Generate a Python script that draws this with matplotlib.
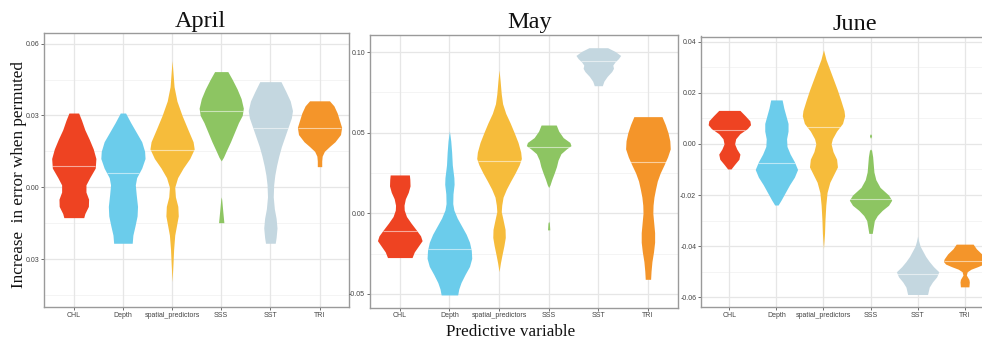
import numpy as np
import matplotlib
matplotlib.use("Agg")
import matplotlib.pyplot as plt

# categories and colours
categories = ["CHL", "Depth", "spatial_predictors", "SSS", "SST", "TRI"]
colors = ["#EE4322", "#6BCCEB", "#F6BC3B", "#8DC562", "#C4D7E0", "#F4952A"]

# violin outlines: (y values, relative width 0..1)
april_profiles = {
    "CHL": ([0.031, 0.028, 0.024, 0.020, 0.016, 0.012, 0.008, 0.004, 0.001, -0.002, -0.005, -0.008, -0.011, -0.0127],
            [0.22, 0.35, 0.5, 0.7, 0.88, 1.0, 0.97, 0.72, 0.55, 0.55, 0.67, 0.66, 0.5, 0.45]),
    "Depth": ([0.031, 0.027, 0.023, 0.019, 0.015, 0.012, 0.008, 0.004, 0.001, -0.003, -0.008, -0.012, -0.016, -0.020, -0.0234],
              [0.12, 0.35, 0.6, 0.85, 0.98, 1.0, 0.85, 0.62, 0.56, 0.6, 0.66, 0.64, 0.55, 0.45, 0.42]),
    "spatial_predictors": ([0.0529, 0.048, 0.042, 0.036, 0.030, 0.024, 0.019, 0.016, 0.012, 0.008, 0.004, 0.000, -0.004, -0.008, -0.012, -0.016, -0.020, -0.026, -0.032, -0.0394],
                           [0.0, 0.04, 0.09, 0.22, 0.45, 0.72, 0.95, 1.0, 0.8, 0.5, 0.25, 0.12, 0.15, 0.26, 0.28, 0.2, 0.12, 0.07, 0.04, 0.0]),
    "SSS": ([0.0483, 0.045, 0.041, 0.037, 0.033, 0.030, 0.027, 0.023, 0.019, 0.015, 0.0125, 0.011, -0.004, -0.005, -0.010, -0.0148],
            [0.3, 0.5, 0.72, 0.9, 1.0, 0.95, 0.78, 0.6, 0.42, 0.22, 0.1, 0.0, 0.0, 0.02, 0.07, 0.12]),
    "SST": ([0.0441, 0.040, 0.036, 0.032, 0.029, 0.025, 0.021, 0.017, 0.013, 0.009, 0.005, 0.001, -0.004, -0.009, -0.013, -0.017, -0.021, -0.0234],
            [0.48, 0.7, 0.9, 1.0, 0.95, 0.8, 0.65, 0.5, 0.38, 0.28, 0.2, 0.15, 0.13, 0.18, 0.26, 0.3, 0.26, 0.22]),
    "TRI": ([0.0361, 0.034, 0.031, 0.028, 0.025, 0.022, 0.019, 0.017, 0.015, 0.013, 0.011, 0.0086],
            [0.45, 0.65, 0.8, 0.9, 1.0, 0.95, 0.7, 0.45, 0.22, 0.12, 0.1, 0.1]),
}
april_medians = [0.009, 0.0061, 0.0156, 0.0319, 0.0246, 0.0246]

may_profiles = {
    "CHL": ([0.0238, 0.021, 0.017, 0.013, 0.009, 0.005, 0.002, -0.002, -0.006, -0.010, -0.014, -0.017, -0.020, -0.024, -0.0275],
            [0.43, 0.45, 0.46, 0.38, 0.25, 0.19, 0.2, 0.3, 0.5, 0.72, 0.93, 1.0, 0.85, 0.65, 0.55]),
    "Depth": ([0.0511, 0.045, 0.038, 0.030, 0.022, 0.018, 0.012, 0.006, 0.002, -0.003, -0.008, -0.013, -0.018, -0.023, -0.028, -0.033, -0.038, -0.043, -0.047, -0.0507],
              [0.0, 0.06, 0.1, 0.13, 0.2, 0.21, 0.16, 0.15, 0.2, 0.35, 0.55, 0.75, 0.9, 0.98, 1.0, 0.9, 0.7, 0.52, 0.42, 0.37]),
    "spatial_predictors": ([0.089, 0.082, 0.074, 0.068, 0.062, 0.056, 0.050, 0.044, 0.038, 0.034, 0.030, 0.025, 0.020, 0.015, 0.010, 0.005, 0.001, -0.004, -0.010, -0.015, -0.020, -0.026, -0.031, -0.0362],
                           [0.0, 0.05, 0.1, 0.16, 0.3, 0.5, 0.68, 0.85, 0.97, 1.0, 0.9, 0.72, 0.52, 0.33, 0.18, 0.12, 0.1, 0.18, 0.27, 0.28, 0.22, 0.13, 0.06, 0.0]),
    "SSS": ([0.0548, 0.051, 0.047, 0.044, 0.042, 0.040, 0.037, 0.033, 0.029, 0.025, 0.021, 0.0176, 0.016, -0.005, -0.006, -0.0103],
            [0.34, 0.45, 0.65, 0.95, 1.0, 0.8, 0.55, 0.42, 0.35, 0.25, 0.14, 0.06, 0.0, 0.0, 0.03, 0.05]),
    "SST": ([0.1028, 0.1005, 0.098, 0.096, 0.094, 0.092, 0.090, 0.088, 0.085, 0.082, 0.0792],
            [0.42, 0.75, 1.0, 0.9, 0.75, 0.65, 0.68, 0.6, 0.4, 0.25, 0.18]),
    "TRI": ([0.060, 0.055, 0.050, 0.045, 0.040, 0.035, 0.030, 0.025, 0.020, 0.015, 0.010, 0.005, 0.000, -0.006, -0.012, -0.018, -0.024, -0.030, -0.036, -0.041],
            [0.63, 0.78, 0.9, 0.98, 1.0, 0.88, 0.72, 0.55, 0.42, 0.34, 0.27, 0.23, 0.22, 0.26, 0.3, 0.3, 0.25, 0.18, 0.14, 0.12]),
}
may_medians = [-0.0108, -0.0223, 0.0325, 0.0414, 0.0945, 0.0321]

june_profiles = {
    "CHL": ([0.0131, 0.011, 0.009, 0.0075, 0.006, 0.004, 0.002, 0.000, -0.002, -0.004, -0.006, -0.008, -0.0098],
            [0.5, 0.75, 0.97, 1.0, 0.85, 0.5, 0.3, 0.25, 0.35, 0.5, 0.45, 0.25, 0.08]),
    "Depth": ([0.0172, 0.014, 0.011, 0.008, 0.005, 0.002, -0.001, -0.004, -0.007, -0.010, -0.013, -0.016, -0.019, -0.022, -0.0239],
              [0.27, 0.35, 0.45, 0.55, 0.55, 0.48, 0.5, 0.65, 0.85, 1.0, 0.85, 0.62, 0.42, 0.22, 0.08]),
    "spatial_predictors": ([0.0368, 0.033, 0.029, 0.025, 0.021, 0.017, 0.013, 0.011, 0.008, 0.005, 0.002, 0.000, -0.003, -0.006, -0.009, -0.012, -0.015, -0.019, -0.024, -0.030, -0.035, -0.0409],
                           [0.0, 0.12, 0.3, 0.48, 0.66, 0.82, 0.97, 1.0, 0.9, 0.62, 0.42, 0.36, 0.45, 0.62, 0.66, 0.48, 0.3, 0.17, 0.11, 0.07, 0.05, 0.0]),
    "SSS": ([0.0038, 0.003, 0.0022, -0.002, -0.0025, -0.005, -0.008, -0.011, -0.014, -0.017, -0.020, -0.022, -0.024, -0.026, -0.028, -0.030, -0.032, -0.035],
            [0.03, 0.05, 0.0, 0.0, 0.05, 0.1, 0.13, 0.16, 0.25, 0.45, 0.85, 1.0, 0.85, 0.55, 0.32, 0.18, 0.14, 0.08]),
    "SST": ([-0.036, -0.038, -0.040, -0.042, -0.044, -0.046, -0.048, -0.050, -0.052, -0.054, -0.056, -0.0589],
            [0.0, 0.05, 0.12, 0.25, 0.38, 0.55, 0.75, 1.0, 0.9, 0.7, 0.55, 0.47]),
    "TRI": ([-0.0392, -0.041, -0.043, -0.045, -0.046, -0.047, -0.048, -0.049, -0.050, -0.0513, -0.053, -0.054, -0.0559],
            [0.4, 0.55, 0.8, 0.97, 1.0, 0.9, 0.62, 0.3, 0.12, 0.08, 0.2, 0.22, 0.2]),
}
june_medians = [0.0055, -0.0073, 0.0068, -0.0217, -0.051, -0.0457]

# y ticks as printed in the figure
april_ticks = [0.06, 0.03, 0.0, -0.03]
april_ticklabels = ["0.06", "0.03", "0.00", "0.03"]
may_ticks = [0.10, 0.05, 0.0, -0.05]
may_ticklabels = ["0.10", "0.05", "0.00", "-0.05"]
june_ticks = [0.04, 0.02, 0.0, -0.02, -0.04, -0.06]
june_ticklabels = ["0.04", "0.02", "0.00", "-0.02", "-0.04", "-0.06"]

W, H = 982, 342
fig = plt.figure(figsize=(W / 100, H / 100), dpi=100)


def px_axes(left, top, right, bottom):
    return fig.add_axes([left / W, 1 - bottom / H, (right - left) / W, (bottom - top) / H])


def draw_panel(ax, profiles, medians, ylim, ticks, ticklabels, title, title_x, title_y):
    ax.set_xlim(0.4, 6.6)
    ax.set_ylim(*ylim)
    ax.set_facecolor("white")
    # grid: major at ticks and categories, minor halfway between y ticks
    step = abs(ticks[0] - ticks[1])
    minor = np.arange(min(ticks) - step / 2, max(ticks) + step, step)
    for m in minor:
        ax.axhline(m, color="#F2F2F2", lw=0.6, zorder=0)
    for t in ticks:
        ax.axhline(t, color="#E6E6E6", lw=0.9, zorder=0)
    for i in range(len(categories)):
        ax.axvline(i + 1, color="#E6E6E6", lw=0.9, zorder=0)

    for i, cat in enumerate(categories):
        ys, ws = profiles[cat]
        ys = np.array(ys)
        ws = np.array(ws) * 0.45
        x = i + 1
        ax.fill_betweenx(ys, x - ws, x + ws, color=colors[i], lw=0, zorder=2)
        order = np.argsort(ys)
        mw = np.interp(medians[i], ys[order], ws[order])
        ax.plot([x - mw, x + mw], [medians[i], medians[i]], color="white",
                alpha=0.55, lw=0.8, zorder=3, solid_capstyle="butt")

    ax.set_xticks(range(1, len(categories) + 1))
    ax.set_xticklabels(categories)
    ax.set_yticks(ticks)
    ax.set_yticklabels(ticklabels)
    ax.tick_params(length=2, width=0.6, color="#555555", pad=1.5,
                   labelsize=5, labelcolor="#444444")
    for lab in ax.get_xticklabels() + ax.get_yticklabels():
        lab.set_family("Liberation Sans")
    for s in ax.spines.values():
        s.set_color("#9A9A9A")
        s.set_linewidth(1.0)
    fig.text(title_x / W, 1 - title_y / H, title, ha="center", va="baseline",
             family="Liberation Serif", fontsize=17.5, color="#111111")


ax1 = px_axes(44.3, 33.3, 349, 306.7)
draw_panel(ax1, april_profiles, april_medians, (-0.0499, 0.0643),
           april_ticks, april_ticklabels, "April", 200, 27)

ax2 = px_axes(370, 34.5, 677.7, 307.5)
draw_panel(ax2, may_profiles, may_medians, (-0.0585, 0.111),
           may_ticks, may_ticklabels, "May", 530, 28.3)

ax3 = px_axes(701.1, 36.5, 992.9, 307.3)
draw_panel(ax3, june_profiles, june_medians, (-0.0639, 0.042),
           june_ticks, june_ticklabels, "June", 855, 30)

fig.text(19 / W, 1 - 175 / H, "Increase  in error when permuted", rotation=90,
         ha="center", va="center", family="Liberation Serif", fontsize=12.3,
         color="#111111")
fig.text(511 / W, 1 - 336.5 / H, "Predictive variable", ha="center", va="baseline",
         family="Liberation Serif", fontsize=12.3, color="#111111")

fig.savefig("out.png", dpi=100, facecolor="white")
